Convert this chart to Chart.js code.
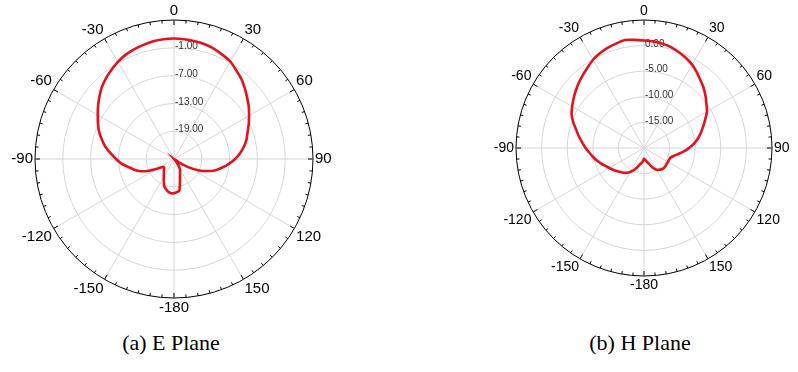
<!DOCTYPE html>
<html><head><meta charset="utf-8">
<script src="https://cdn.jsdelivr.net/npm/chart.js@4.4.0/dist/chart.umd.min.js"></script>
<style>
html,body{margin:0;padding:0;background:#fff;width:798px;height:372px;overflow:hidden;position:relative}
canvas{position:absolute}
.cap{position:absolute;font-family:"Liberation Serif","Times New Roman",serif;font-size:22px;line-height:24px;color:#000;transform:translateX(-50%);white-space:nowrap}
</style></head><body>
<canvas id="ce" width="364" height="312" style="left:-8px;top:3px"></canvas>
<canvas id="ch" width="330" height="288" style="left:479px;top:4px"></canvas>
<div class="cap" style="left:171px;top:331px">(a) E Plane</div>
<div class="cap" style="left:640px;top:331px">(b) H Plane</div>
<script>
// angles (degrees, clockwise from top) every 5 degrees
const ANGLES = [0,5,10,15,20,25,30,35,40,45,50,55,60,65,70,75,80,85,90,95,100,105,110,115,120,125,130,135,140,145,150,155,160,165,170,175,180,185,190,195,200,205,210,215,220,225,230,235,240,245,250,255,260,265,270,275,280,285,290,295,300,305,310,315,320,325,330,335,340,345,350,355];
const ANGLE_TICK_LABELS = ['0','30','60','90','120','150','-180','-150','-120','-90','-60','-30'];

// E plane pattern (dB)
const E_PLANE = [1.0,0.95,0.8,0.65,0.3,-0.2,-0.7,-1.6,-2.4,-3.4,-4.4,-5.3,-6.3,-7.2,-8.1,-8.8,-9.7,-10.7,-11.8,-13.1,-14.4,-15.7,-17.4,-19.3,-21.5,-23.5,-25,-25,-24.5,-23.5,-22.4,-21.9,-21.2,-20,-18.2,-17.8,-17.6,-17.6,-17.8,-18.3,-18.8,-19.8,-20.6,-21.2,-21.6,-22,-22.2,-22,-20.8,-19,-17.3,-16.1,-15,-13.6,-12.5,-11.3,-10.0,-8.9,-7.8,-6.9,-6.0,-5.0,-4.0,-3.0,-2.2,-1.5,-0.8,-0.2,0.2,0.5,0.8,0.95];
// H plane pattern (dB)
const H_PLANE = [1.0,0.9,0.7,0.4,-0.1,-0.6,-1.2,-2.0,-2.8,-3.5,-4.3,-5.1,-5.8,-6.8,-7.7,-8.5,-9.3,-10.2,-11.2,-12.2,-13.2,-14.0,-14.5,-14.6,-14.6,-14.6,-14.5,-14.5,-14.6,-14.8,-15.1,-15.7,-16.4,-17,-17.4,-17.7,-17.9,-17.4,-17.0,-16.6,-15.9,-15.2,-14.6,-14.1,-13.7,-13.4,-13.0,-12.6,-12.2,-11.7,-11.1,-10.5,-9.9,-9.3,-8.6,-7.9,-7.1,-6.3,-5.3,-4.4,-3.8,-3.2,-2.6,-2.0,-1.4,-0.8,-0.1,0.4,0.8,1.1,1.4,1.2];

// radial axis settings
const E_MIN = -25, E_MAX = 5, E_STEP = 6;
const E_RING_VALUES = [-1,-7,-13,-19];
const E_RING_LABELS = ['-1.00','-7.00','-13.00','-19.00'];
const H_MIN = -20, H_MAX = 5, H_STEP = 5;
const H_RING_VALUES = [0,-5,-10,-15];
const H_RING_LABELS = ['0.00','-5.00','-10.00','-15.00'];

const polarDeco = {
  id: 'polarDeco',
  beforeDatasetsDraw(chart, args, opts) {
    const s = chart.scales.r, ctx = chart.ctx;
    const R = s.drawingArea, cx = s.xCenter, cy = s.yCenter;
    ctx.save();
    ctx.strokeStyle = '#000';
    ctx.lineWidth = 1;
    for (let i = 0; i < chart.data.labels.length; i++) {
      const len = i % 6 === 0 ? 5 : 3;
      const p1 = s.getPointPosition(i, R), p2 = s.getPointPosition(i, R - len);
      ctx.beginPath(); ctx.moveTo(p1.x, p1.y); ctx.lineTo(p2.x, p2.y); ctx.stroke();
    }
    ctx.font = opts.font;
    ctx.fillStyle = '#333';
    ctx.textAlign = 'left';
    ctx.textBaseline = 'middle';
    opts.rings.forEach((v, k) => {
      const d = s.getDistanceFromCenterForValue(v);
      ctx.fillText(opts.labels[k], cx + 1, cy - d - 1.5);
    });
    ctx.restore();
  }
};

function makeChart(id, values, min, max, step, rings, ringLabels, labelSize, ringFont) {
  return new Chart(document.getElementById(id), {
    type: 'radar',
    data: {
      labels: ANGLES,
      datasets: [{
        data: values,
        borderColor: '#e8101a',
        borderWidth: 2.6,
        pointRadius: 0,
        fill: false,
        tension: 0.1
      }]
    },
    options: {
      responsive: false,
      animation: false,
      layout: { padding: 0 },
      plugins: {
        legend: { display: false },
        tooltip: { enabled: false },
        polarDeco: { rings: rings, labels: ringLabels, font: ringFont }
      },
      scales: {
        r: {
          min: min, max: max,
          ticks: { display: false, stepSize: step },
          grid: {
            circular: true,
            color: c => c.index === 0 ? 'rgba(0,0,0,0)' : (c.index === 5 ? '#000' : '#d6d6d6'),
            lineWidth: 1
          },
          angleLines: {
            color: '#d6d6d6',
            lineWidth: c => c.index % 6 === 0 ? 1 : 0
          },
          pointLabels: {
            padding: 2,
            color: '#000',
            font: { family: '"Liberation Sans", Arial, sans-serif', size: labelSize, lineHeight: 1 },
            callback: (l, i) => i % 6 === 0 ? ANGLE_TICK_LABELS[i / 6] : ''
          }
        }
      }
    },
    plugins: [polarDeco]
  });
}

makeChart('ce', E_PLANE, E_MIN, E_MAX, E_STEP, E_RING_VALUES, E_RING_LABELS, 15, '10px "Liberation Sans", Arial, sans-serif');
makeChart('ch', H_PLANE, H_MIN, H_MAX, H_STEP, H_RING_VALUES, H_RING_LABELS, 14, '10px "Liberation Sans", Arial, sans-serif');
</script>
</body></html>
